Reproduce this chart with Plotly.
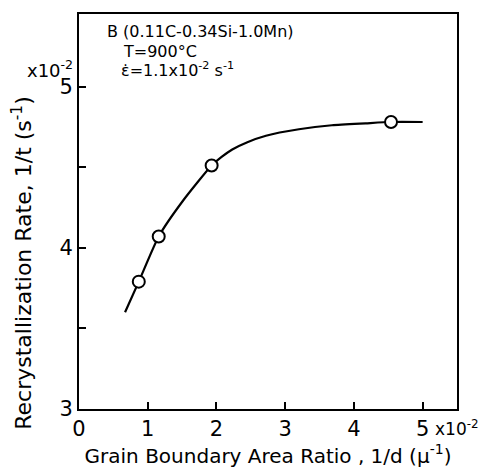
import plotly.graph_objects as go

# Smoothed trend through the measurements (x in 1e-2 /µ, y in 1e-2 /s)
curve_x = [0.67, 0.87, 1.16, 1.51, 1.93, 2.08, 2.23, 2.45, 2.72, 3.20, 3.68, 4.17, 4.54, 5.0]
curve_y = [3.60, 3.79, 4.07, 4.29, 4.51, 4.565, 4.61, 4.655, 4.695, 4.735, 4.76, 4.772, 4.78, 4.78]

# Measured points
point_x = [0.87, 1.16, 1.93, 4.54]
point_y = [3.79, 4.07, 4.51, 4.78]

x_ticks = [0, 1, 2, 3, 4, 5]
y_ticks = [3, 4, 5]

FONT = "DejaVu Sans"

fig = go.Figure()
fig.add_trace(go.Scatter(
    x=curve_x, y=curve_y, mode="lines",
    line=dict(color="black", width=2.2, shape="spline", smoothing=0.6),
    hoverinfo="skip", showlegend=False,
))
fig.add_trace(go.Scatter(
    x=point_x, y=point_y, mode="markers",
    marker=dict(symbol="circle", size=12, color="white",
                line=dict(color="black", width=2)),
    showlegend=False,
))

fig.update_xaxes(
    range=[0, 5.5], tickvals=x_ticks, ticktext=[str(v) for v in x_ticks],
    ticks="inside", ticklen=7, tickwidth=1.5, tickcolor="black",
    showline=True, linecolor="black", linewidth=2, mirror=True,
    showgrid=False, zeroline=False,
    tickfont=dict(family=FONT, size=21, color="black"),
    title=dict(text="Grain Boundary Area Ratio , 1/d (µ<sup>-1</sup>)",
               font=dict(family=FONT, size=20, color="black"), standoff=2),
)
fig.update_yaxes(
    range=[3, 5.45], tickvals=y_ticks, ticktext=[str(v) for v in y_ticks],
    ticks="inside", ticklen=7, tickwidth=1.5, tickcolor="black",
    minor=dict(tickvals=[3.5, 4.5], ticks="inside", ticklen=7,
               tickwidth=1.5, tickcolor="black"),
    showline=True, linecolor="black", linewidth=2, mirror=True,
    showgrid=False, zeroline=False,
    tickfont=dict(family=FONT, size=21, color="black"),
)

annotations = [
    # y-axis title, set lower than the plot centre
    dict(text="Recrystallization Rate, 1/t (s<sup>-1</sup>)", textangle=-90,
         x=-0.151, y=0.37, xanchor="center", yanchor="middle",
         font=dict(family=FONT, size=22, color="black")),
    dict(text="x10<sup>-2</sup>", x=-0.01, y=0.86, xanchor="right", yanchor="middle",
         font=dict(family=FONT, size=18, color="black")),
    dict(text="x10<sup>-2</sup>", x=1.063, y=-0.048, xanchor="right", yanchor="middle",
         font=dict(family=FONT, size=17, color="black")),
    dict(text="B (0.11C-0.34Si-1.0Mn)", x=0.07, y=0.955, xanchor="left", yanchor="middle",
         font=dict(family=FONT, size=16, color="black")),
    dict(text="T=900°C", x=0.11, y=0.905, xanchor="left", yanchor="middle",
         font=dict(family=FONT, size=16, color="black")),
    dict(text="\u03b5\u0307=1.1x10<sup>-2</sup> s<sup>-1</sup>", x=0.105, y=0.86,
         xanchor="left", yanchor="middle",
         font=dict(family=FONT, size=16, color="black")),
]
for a in annotations:
    a.update(xref="paper", yref="paper", showarrow=False)

fig.update_layout(
    width=481, height=469,
    margin=dict(l=79, r=24, t=12, b=55),
    paper_bgcolor="white", plot_bgcolor="white",
    annotations=annotations,
)

fig.write_html("out.html")
